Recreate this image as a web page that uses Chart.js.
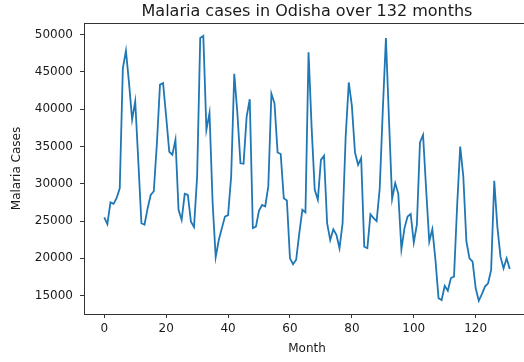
<!DOCTYPE html>
<html>
<head>
<meta charset="utf-8">
<script src="https://cdn.jsdelivr.net/npm/chart.js@4.4.1/dist/chart.umd.min.js"></script>
<style>
  html, body { margin: 0; padding: 0; background: #fff; overflow: hidden; }
  #wrap { width: 545px; height: 362px; }
</style>
</head>
<body>
<div id="wrap"><canvas id="malariaChart"></canvas></div>
<script>
// monthly malaria cases
var cases = [
  25500, 24600, 27500, 27300, 28100, 29400, 45500, 47850, 43500, 38600,
  41050, 33000, 24700, 24500, 26700, 28500, 29000, 35400, 43300, 43500,
  39000, 34300, 33900, 35900, 26500, 25150, 28650, 28500, 24900, 24200,
  31000, 49550, 49850, 37250, 39500, 27500, 20150, 22450, 24050, 25600,
  25800, 31000, 44750, 39500, 32750, 32700, 39000, 41350, 24050, 24250,
  26400, 27150, 26950, 29650, 42100, 40800, 34200, 34000, 28050, 27750,
  20000, 19200, 19800, 23350, 26500, 26150, 47650, 37500, 29200, 27850,
  33200, 33750, 24700, 22450, 23900, 23150, 21350, 24700, 36400, 43600,
  40450, 34200, 32550, 33450, 21550, 21350, 25900, 25400, 25000, 29400,
  40000, 49550, 38500, 27950, 30100, 28650, 21200, 24050, 25600, 25950,
  22100, 24500, 35550, 36550, 29200, 22250, 23900, 19800, 14650, 14400,
  16300, 15650, 17350, 17550, 27000, 35000, 31000, 22250, 20000, 19550,
  16000, 14300, 15200, 16200, 16650, 18450, 30400, 24250, 20250, 18650,
  20000, 18550
];
var xTicks = [0, 20, 40, 60, 80, 100, 120];
var yTicks = [15000, 20000, 25000, 30000, 35000, 40000, 45000, 50000];
var chartTitle = 'Malaria cases in Odisha over 132 months';

var points = [];
for (let i = 0; i < cases.length; i++) {
  points.push({ x: i, y: cases[i] });
}

// box around the axes + title centred over it (matplotlib look)
var frame = {
  id: 'frame',
  afterDraw: function (chart) {
    var a = chart.chartArea;
    var ctx = chart.ctx;
    ctx.save();
    ctx.strokeStyle = '#333';
    ctx.lineWidth = 1;
    ctx.strokeRect(Math.round(a.left) + 0.5, Math.round(a.top) + 0.5,
      Math.round(a.right - a.left), Math.round(a.bottom - a.top));
    ctx.fillStyle = '#1a1a1a';
    ctx.font = '16px "DejaVu Sans"';
    ctx.textAlign = 'center';
    ctx.textBaseline = 'alphabetic';
    ctx.fillText(chartTitle, (a.left + a.right) / 2, 15.5);
    ctx.restore();
  }
};

var tickFont = { family: 'DejaVu Sans', size: 12 };

new Chart(document.getElementById('malariaChart'), {
  type: 'line',
  data: {
    datasets: [{
      data: points,
      borderColor: '#1f77b4',
      borderWidth: 1.8,
      pointRadius: 0,
      tension: 0,
      fill: false
    }]
  },
  options: {
    responsive: true,
    maintainAspectRatio: false,
    animation: false,
    devicePixelRatio: 1,
    layout: { padding: { top: 23, right: 15, left: 0, bottom: 0 } },
    plugins: { legend: { display: false }, tooltip: { enabled: false } },
    scales: {
      x: {
        type: 'linear',
        min: -6.55,
        max: 137.55,
        afterBuildTicks: function (s) { s.ticks = xTicks.map(v => ({ value: v })); },
        afterFit: function (s) { s.height = 48; },
        grid: { drawOnChartArea: false, drawTicks: true, tickLength: 4, tickColor: '#333' },
        border: { display: false },
        ticks: { color: '#1a1a1a', font: tickFont, padding: 4, maxRotation: 0 },
        title: { display: true, text: 'Month', color: '#1a1a1a', font: tickFont, padding: { top: 0, bottom: 6 } }
      },
      y: {
        min: 12525,
        max: 51575,
        afterBuildTicks: function (s) { s.ticks = yTicks.map(v => ({ value: v })); },
        afterFit: function (s) { s.width = 84; },
        grid: { drawOnChartArea: false, drawTicks: true, tickLength: 4, tickColor: '#333' },
        border: { display: false },
        ticks: { color: '#1a1a1a', font: tickFont, padding: 7, callback: v => String(v) },
        title: { display: true, text: 'Malaria Cases', color: '#1a1a1a', font: tickFont, padding: { top: 10, bottom: 0 } }
      }
    }
  },
  plugins: [frame]
});
</script>
</body>
</html>
